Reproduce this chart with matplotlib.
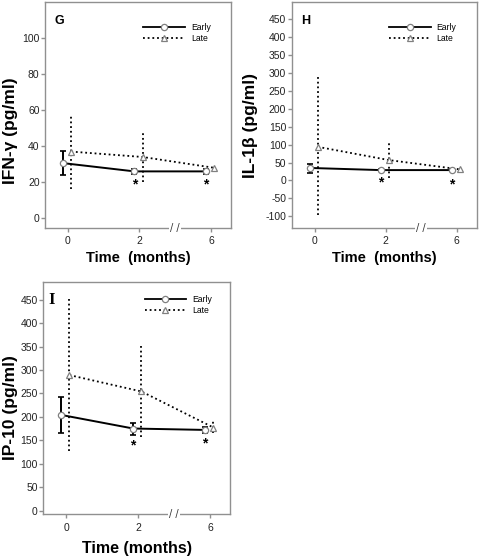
import numpy as np
import matplotlib.pyplot as plt
from matplotlib import font_manager
from matplotlib.lines import Line2D

# time points (months), drawn at equal spacing
time_labels = ["0", "2", "6"]

# panel G: IFN-gamma
g_early = [30.6, 26.0, 26.0]
g_early_lo = [6.5, 1.5, 1.5]
g_early_hi = [6.5, 1.5, 1.5]
g_late = [37.0, 34.0, 28.0]
g_late_lo = [21.0, 14.0, 1.0]
g_late_hi = [21.0, 14.0, 1.0]
g_star = [18.5, 18.5]

# panel H: IL-1beta
h_early = [35.0, 29.0, 29.0]
h_early_lo = [13.0, 3.0, 3.0]
h_early_hi = [12.0, 3.0, 3.0]
h_late = [94.0, 57.0, 31.0]
h_late_lo = [191.0, 51.0, 3.0]
h_late_hi = [195.0, 51.0, 3.0]
h_star = [-6.0, -11.0]

# panel I: IP-10
i_early = [204.0, 175.0, 172.0]
i_early_lo = [38.0, 13.0, 6.0]
i_early_hi = [39.0, 12.0, 6.0]
i_late = [289.0, 254.0, 177.0]
i_late_lo = [163.0, 97.0, 12.0]
i_late_hi = [163.0, 98.0, 16.0]
i_star = [138.0, 143.0]

plt.rcParams["axes.unicode_minus"] = False

# narrow font for ticks/legend if present, else regular at smaller size
try:
    font_manager.findfont("Liberation Sans Narrow", fallback_to_default=False)
    NARROW = ["Liberation Sans Narrow", "DejaVu Sans"]
    TICK_SIZE, LEG_SIZE = 8.6, 7.0
except ValueError:
    NARROW = ["Liberation Sans", "DejaVu Sans"]
    TICK_SIZE, LEG_SIZE = 7.5, 6.2
SANS = ["Liberation Sans", "DejaVu Sans"]
SPINE = "#909090"
DOT = (0, (1, 1.6))


def panel(fig, rect, early, e_lo, e_hi, late, l_lo, l_hi, stars, ylim, yticks,
          ylabel, letter, xlabel, serif_letter, xlabel_size, leg_anchor,
          ylab_xy, xlab_pad):
    ax = fig.add_axes(rect)
    x = np.arange(len(time_labels))
    xe = x - 0.07
    xl = x + 0.045

    ax.errorbar(xe, early, yerr=[e_lo, e_hi], fmt="none", ecolor="black",
                elinewidth=1.4, capsize=2.5, capthick=1.2, zorder=3)
    ax.plot(xe, early, color="black", lw=1.4, zorder=3)
    ax.plot(xe, early, ls="none", marker="o", ms=4.5, mfc="white",
            mec="#808080", mew=0.9, zorder=4)

    eb = ax.errorbar(xl, late, yerr=[l_lo, l_hi], fmt="none", ecolor="black",
                     elinewidth=1.3, capsize=0, zorder=2)
    eb[2][0].set_linestyle(DOT)
    ax.plot(xl, late, color="black", lw=1.3, ls=DOT, zorder=2)
    ax.plot(xl, late, ls="none", marker="^", ms=4.5, mfc="white",
            mec="#808080", mew=0.9, zorder=4)

    for xs, ys in zip(xe[1:], stars):
        ax.text(xs, ys, "*", ha="center", va="center", fontsize=10,
                fontweight="bold", color="black", family=SANS)

    ax.set_xlim(-0.32, 2.28)
    ax.set_ylim(*ylim)
    ax.set_xticks(x)
    ax.set_xticklabels(time_labels)
    ax.set_yticks(yticks)
    for s in ax.spines.values():
        s.set_color(SPINE)
        s.set_linewidth(1.0)
    ax.tick_params(colors=SPINE, labelcolor="#222222", length=3, width=1.0,
                   labelsize=TICK_SIZE)
    for lab in ax.get_xticklabels() + ax.get_yticklabels():
        lab.set_family(NARROW)
    ax.tick_params(axis="y", pad=1)
    ax.tick_params(axis="x", pad=3)

    ax.set_ylabel(ylabel, fontsize=12.5, fontweight="bold", family=SANS)
    ax.yaxis.set_label_coords(*ylab_xy)
    ax.set_xlabel(xlabel, fontsize=xlabel_size, fontweight="bold",
                  family=SANS, labelpad=xlab_pad)

    # axis break mark between 2 and 6 months
    ax.text(1.5, 0, "/ /", transform=ax.get_xaxis_transform(), ha="center",
            va="center", fontsize=7, color="#333333", clip_on=False,
            bbox=dict(facecolor="white", edgecolor="none", pad=1.0), zorder=5)

    if serif_letter:
        ax.text(0.03, 0.925, letter, transform=ax.transAxes, fontsize=12,
                fontweight="bold", family=["Liberation Serif", "DejaVu Serif"],
                va="center")
    else:
        ax.text(0.05, 0.918, letter, transform=ax.transAxes, fontsize=9,
                fontweight="bold", family=SANS, va="center")

    handles = [
        Line2D([], [], color="black", lw=1.3, marker="o", ms=4.5, mfc="white",
               mec="#808080", mew=0.9),
        Line2D([], [], color="black", lw=1.3, ls=DOT, marker="^", ms=4.5,
               mfc="white", mec="#808080", mew=0.9),
    ]
    ax.legend(handles, ["Early", "Late"], loc="upper right",
              bbox_to_anchor=leg_anchor, frameon=False, handlelength=4.8,
              handletextpad=0.7, labelspacing=0.25, borderaxespad=0,
              prop={"family": NARROW, "size": LEG_SIZE})
    return ax


def main():
    fig = plt.figure(figsize=(4.8, 5.59), dpi=100)
    panel(fig, [0.094, 0.592, 0.387, 0.404], g_early, g_early_lo, g_early_hi,
          g_late, g_late_lo, g_late_hi, g_star, (-5.5, 120),
          np.arange(0, 101, 20), "IFN-\u03b3 (pg/ml)", "G", "Time  (months)",
          False, 10.5, (0.91, 0.925), (-0.145, 0.43), 3)
    panel(fig, [0.608, 0.592, 0.385, 0.404], h_early, h_early_lo, h_early_hi,
          h_late, h_late_lo, h_late_hi, h_star, (-133, 498),
          np.arange(-100, 451, 50), "IL-1\u03b2 (pg/ml)", "H", "Time  (months)",
          False, 10.5, (0.91, 0.925), (-0.185, 0.455), 3)
    panel(fig, [0.090, 0.080, 0.390, 0.415], i_early, i_early_lo, i_early_hi,
          i_late, i_late_lo, i_late_hi, i_star, (-8, 487),
          np.arange(0, 451, 50), "IP-10 (pg/ml)", "I", "Time (months)",
          True, 11.5, (0.92, 0.96), (-0.135, 0.46), 6)
    fig.savefig("out.png", dpi=100)
    plt.close(fig)


if __name__ == "__main__":
    main()
